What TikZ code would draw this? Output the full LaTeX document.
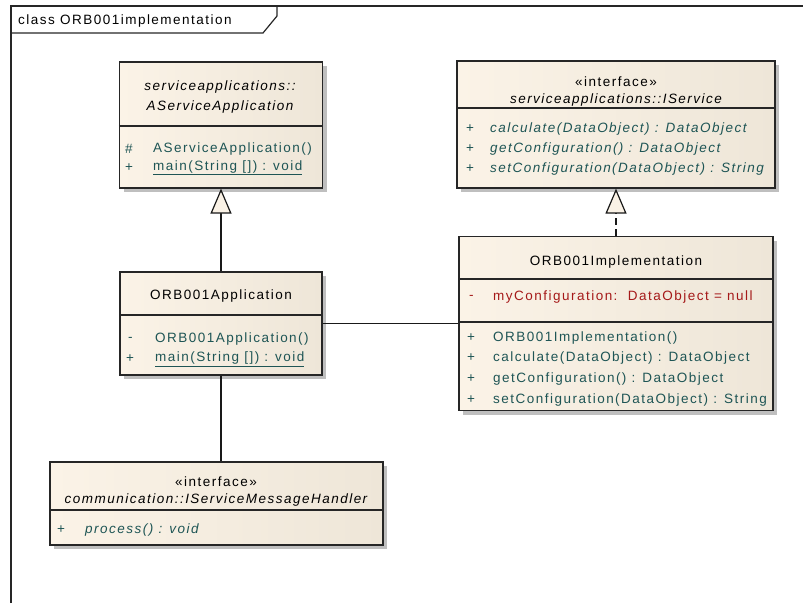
\documentclass[tikz,border=0pt]{standalone}
\usepackage{fontspec}
\setmainfont{Liberation Sans}[LetterSpace=11]
\usetikzlibrary{arrows.meta,shadows}
\definecolor{bgL}{RGB}{251,243,231}
\definecolor{bgR}{RGB}{238,230,216}
\definecolor{mem}{RGB}{30,85,85}
\definecolor{attr}{RGB}{165,25,25}
\definecolor{tipfill}{RGB}{250,242,230}
\begin{document}
\begin{tikzpicture}[x=1pt,y=-1pt,
  classbox/.style={draw=black!85, line width=1.2pt, left color=bgL, right color=bgR,
    inner sep=0pt, drop shadow={shadow xshift=4pt, shadow yshift=-4pt, fill=black!25, opacity=1}},
  divider/.style={draw=black!85, line width=1.2pt},
  txt/.style={inner sep=0pt, font=\fontsize{13.5}{16}\selectfont},
  ttl/.style={txt, text=black},
  memb/.style={txt, text=mem, anchor=west},
  attrb/.style={txt, text=attr, anchor=west},
  conn/.style={draw=black!90, line width=1.2pt},
  gen/.style={conn, -{Triangle[length=25pt, width=21pt, fill=tipfill]}},
  real/.style={gen, dash pattern=on 7pt off 4pt}]
\useasboundingbox (0,0) rectangle (803,603);
% frame
\draw[line width=1.6pt, draw=black!85] (11,603) -- (11,6) -- (803,6);
\draw[line width=1.2pt, draw=black!85] (11,33) -- (263,33) -- (277,16) -- (277,6);
\node[txt, anchor=west] (frametitle) at (18,21) {class ORB001implementation};

% class boxes
\node[classbox, minimum width=203pt, minimum height=126pt] (asa) at (221,125) {};
\node[classbox, minimum width=318pt, minimum height=127pt] (isvc) at (616,124.5) {};
\node[classbox, minimum width=202pt, minimum height=103pt] (app) at (221,323.5) {};
\node[classbox, minimum width=314pt, minimum height=174pt] (impl) at (616,323.5) {};
\node[classbox, minimum width=333pt, minimum height=83pt] (msg) at (216.5,503.5) {};

% dividers
\draw[divider] (asa.west |- 0,126) -- (asa.east |- 0,126);
\draw[divider] (isvc.west |- 0,108) -- (isvc.east |- 0,108);
\draw[divider] (app.west |- 0,315) -- (app.east |- 0,315);
\draw[divider] (impl.west |- 0,279) -- (impl.east |- 0,279);
\draw[divider] (impl.west |- 0,322) -- (impl.east |- 0,322);
\draw[divider] (msg.west |- 0,510) -- (msg.east |- 0,510);

% AServiceApplication
\node[ttl] (asa-t1) at (220,87) {\itshape serviceapplications::};
\node[ttl] (asa-t2) at (220,107) {\itshape AServiceApplication};
\node[memb] (asa-v1) at (125,149) {\#};
\node[memb] (asa-m1) at (153,149) {AServiceApplication()};
\node[memb] (asa-v2) at (125,168) {+};
\node[memb] (asa-m2) at (153,168) {\underline{main(String []) : void}};

% IService
\node[ttl] (isvc-s) at (616,82) {«interface»};
\node[ttl] (isvc-t) at (616,100) {\itshape serviceapplications::IService};
\node[memb] (isvc-v1) at (466,129) {+};
\node[memb] (isvc-m1) at (490,129) {\itshape calculate(DataObject) : DataObject};
\node[memb] (isvc-v2) at (466,149) {+};
\node[memb] (isvc-m2) at (490,149) {\itshape getConfiguration() : DataObject};
\node[memb] (isvc-v3) at (466,169) {+};
\node[memb] (isvc-m3) at (490,169) {\itshape setConfiguration(DataObject) : String};

% ORB001Application
\node[ttl] (app-t) at (221,296) {ORB001Application};
\node[memb] (app-v1) at (128,339) {-};
\node[memb] (app-m1) at (155,339) {ORB001Application()};
\node[memb] (app-v2) at (126,359) {+};
\node[memb] (app-m2) at (155,359) {\underline{main(String []) : void}};

% ORB001Implementation
\node[ttl] (impl-t) at (616,262) {ORB001Implementation};
\node[attrb] (impl-v0) at (469,297) {-};
\node[attrb] (impl-a0) at (493,297) {myConfiguration:\ \ DataObject = null};
\node[memb] (impl-v1) at (467,338) {+};
\node[memb] (impl-m1) at (493,338) {ORB001Implementation()};
\node[memb] (impl-v2) at (467,358) {+};
\node[memb] (impl-m2) at (493,358) {calculate(DataObject) : DataObject};
\node[memb] (impl-v3) at (467,379) {+};
\node[memb] (impl-m3) at (493,379) {getConfiguration() : DataObject};
\node[memb] (impl-v4) at (467,400) {+};
\node[memb] (impl-m4) at (493,400) {setConfiguration(DataObject) : String};

% IServiceMessageHandler
\node[ttl] (msg-s) at (216,482) {«interface»};
\node[ttl] (msg-t) at (216,500) {\itshape communication::IServiceMessageHandler};
\node[memb] (msg-v1) at (57,530) {+};
\node[memb] (msg-m1) at (85,530) {\itshape process() : void};

% connectors
\draw[gen] (app) -- (asa);
\draw[real] (impl) -- (isvc);
\draw[conn] (app) -- (impl);
\draw[conn] (app.south) -- (app.south |- msg.north);
\end{tikzpicture}
\end{document}
